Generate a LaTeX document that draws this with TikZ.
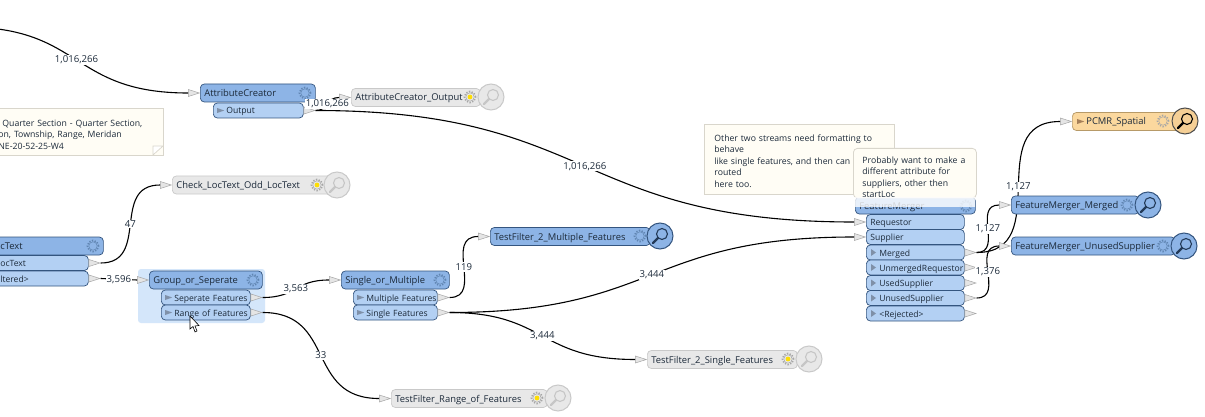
\documentclass[tikz,border=0pt]{standalone}
\usepackage{fontspec}
\setmainfont{Open Sans}
\usetikzlibrary{calc,shapes.geometric}
\definecolor{headblue}{HTML}{8DB4E6}
\definecolor{portblue}{HTML}{B3D0F3}
\definecolor{edgeblue}{HTML}{34557F}
\definecolor{hiliteblue}{HTML}{D4E6FA}
\definecolor{markgray}{HTML}{7F90A8}
\definecolor{grayfill}{HTML}{E8E8E8}
\definecolor{grayedge}{HTML}{C9C9C9}
\definecolor{orangefill}{HTML}{FBD89E}
\definecolor{orangeedge}{HTML}{B79A68}
\definecolor{notefill}{HTML}{FFFDF5}
\definecolor{noteedge}{HTML}{D9D6CC}
\definecolor{inktext}{HTML}{1C2A3A}
\def\markedtext#1{\hspace*{9pt}\mbox{#1}}
\tikzset{
	boxbase/.style={draw, rounded corners=4pt, line width=0.7pt, anchor=west, inner xsep=4pt, inner ysep=0pt, text height=8pt, text depth=1pt, align=left, text=inktext, font=\fontsize{9.4}{11}\selectfont},
	headbox/.style={boxbase, fill=headblue, draw=edgeblue, minimum height=18pt},
	portbox/.style={boxbase, fill=portblue, draw=edgeblue, minimum height=15pt, font=\fontsize{8.6}{11}\selectfont},
	graybox/.style={boxbase, fill=grayfill, draw=grayedge, minimum height=18pt},
	orangebox/.style={boxbase, fill=orangefill, draw=orangeedge, minimum height=18pt},
	porttip/.style={isosceles triangle, isosceles triangle stretches, inner sep=0pt, minimum width=7pt, minimum height=11pt, fill=gray!20, draw=gray!70, line width=0.5pt},
	portmark/.style={isosceles triangle, isosceles triangle stretches, inner sep=0pt, minimum width=5pt, minimum height=7pt, fill=markgray, draw=none},
	link/.style={draw=black, line width=1.1pt, out=0, in=180, looseness=1.3},
	countlabel/.style={midway, fill=white, inner sep=1pt, text=inktext, font=\fontsize{9.6}{11}\selectfont},
	notebox/.style={draw=noteedge, fill=notefill, line width=0.8pt, anchor=north west, inner sep=0pt, align=left, text=inktext, font=\fontsize{8.7}{11.5}\selectfont},
	pics/gearicon/.style args={#1 and #2}{code={
		\fill[#2] (0,0) circle (2.4pt);
		\draw[#1, line width=1.6pt, dash pattern=on 1.3pt off 1.5pt] (0,0) circle (5.6pt);
		\draw[#1, line width=0.5pt] (0,0) circle (4.2pt);
	}},
	pics/lensicon/.style args={#1 and #2 and #3}{code={
		\draw[#2, fill=#1, line width=1pt] (0,0) circle (13pt);
		\draw[#3, line width=1.1pt] (2,-2) circle (5.5pt);
		\draw[#3, line width=2.4pt, line cap=round] (-2,2) -- (-7,7);
	}}
}
\begin{document}
\begin{tikzpicture}[x=1pt,y=-1pt]
		%%%%% START %%%%%
		\useasboundingbox (0,0) rectangle (1205,417);
		\clip (0,0) rectangle (1205,417);
		\fill[white] (0,0) rectangle (1205,417);

		% notes on the left
		\node[notebox, text width=165pt, minimum height=47pt] (noteQuarter) at (-2,108) {\rule{0pt}{12pt}\hspace*{4pt}Quarter Section - Quarter Section,\\on, Township, Range, Meridan\\NE-20-52-25-W4};
		\draw[noteedge, fill=white, line width=0.7pt] (153,155) -- (153,146) -- (163,146) -- cycle;

		% attribute creator
		\node[headbox, text width=107pt] (attrHead) at (200,93) {AttributeCreator};
		\node[portbox, text width=82pt] (attrOut) at (213,110.5) {\markedtext{Output}};
		\node[porttip, anchor=east] (attrIn) at (attrHead.west) {};
		\node[porttip, anchor=west] (attrOutTip) at (attrOut.east) {};
		\node[portmark, anchor=west] at (217,110.5) {};
		\pic at (305,93) {gearicon=headblue!50!edgeblue and headblue};
		\coordinate (offLeft) at (-35,27);

		\node[graybox, text width=121pt] (attrLog) at (351,97.5) {AttributeCreator\_Output};
		\node[porttip, anchor=east] (attrLogIn) at (attrLog.west) {};
		\pic at (470,97) {gearicon=gray!70 and yellow!80!orange};
		\pic at (491,97) {lensicon=grayfill and grayedge and gray!45};

		% check node
		\node[graybox, text width=155pt] (checkLog) at (172,185) {Check\_LocText\_Odd\_LocText};
		\node[porttip, anchor=east] (checkIn) at (checkLog.west) {};
		\pic at (317,185) {gearicon=gray!70 and yellow!80!orange};
		\pic at (337,185) {lensicon=grayfill and grayedge and gray!45};

		\node[headbox, text width=105pt] (locHead) at (-10,246) {\hspace*{6pt}cText};
		\node[portbox, text width=90pt] (locPass) at (-10,263) {\hspace*{6pt}ocText};
		\node[portbox, text width=90pt] (locFail) at (-10,278.5) {\hspace*{6pt}ltered>};
		\node[porttip, anchor=west] (locPassTip) at (locPass.east) {};
		\node[porttip, anchor=west] (locFailTip) at (locFail.east) {};
		\pic at (93,246) {gearicon=headblue!50!edgeblue and headblue};

		% group tester
		\fill[hiliteblue, rounded corners=3pt] (138,269) rectangle (265,323);
		\node[headbox, text width=105pt] (groupHead) at (149,280) {Group\_or\_Seperate};
		\node[portbox, text width=81pt] (groupSep) at (161,297.5) {\markedtext{Seperate Features}};
		\node[portbox, text width=81pt] (groupRange) at (161,312.5) {\markedtext{Range of Features}};
		\node[porttip, anchor=east] (groupIn) at (groupHead.west) {};
		\node[porttip, anchor=west] (groupSepTip) at (groupSep.east) {};
		\node[porttip, anchor=west] (groupRangeTip) at (groupRange.east) {};
		\node[portmark, anchor=west] at (165,297.5) {};
		\node[portmark, anchor=west] at (165,312.5) {};
		\pic at (253,280) {gearicon=headblue!50!edgeblue and headblue};
		\draw[black, fill=white, line width=0.6pt] (190,316) -- (190,329) -- (193,326.5) -- (195,332) -- (197,331) -- (195,326) -- (199,325.5) -- cycle;

		% single or multiple
		\node[headbox, text width=100pt] (singleHead) at (341,280) {Single\_or\_Multiple};
		\node[portbox, text width=76pt] (singleMulti) at (353,297.5) {\markedtext{Multiple Features}};
		\node[portbox, text width=76pt] (singleOne) at (353,312.5) {\markedtext{Single Features}};
		\node[porttip, anchor=east] (singleIn) at (singleHead.west) {};
		\node[porttip, anchor=west] (singleMultiTip) at (singleMulti.east) {};
		\node[porttip, anchor=west] (singleOneTip) at (singleOne.east) {};
		\node[portmark, anchor=west] at (357,297.5) {};
		\node[portmark, anchor=west] at (357,312.5) {};
		\pic at (440,280) {gearicon=headblue!50!edgeblue and headblue};

		% test filter outputs
		\node[headbox, text width=152pt] (multiLog) at (490,236.5) {TestFilter\_2\_Multiple\_Features};
		\node[porttip, anchor=east] (multiIn) at (multiLog.west) {};
		\pic at (640,236) {gearicon=headblue!50!edgeblue and headblue};
		\pic at (660,236) {lensicon=headblue and edgeblue and edgeblue!70!black};

		\node[graybox, text width=142pt] (oneLog) at (647,359.5) {TestFilter\_2\_Single\_Features};
		\node[porttip, anchor=east] (oneIn) at (oneLog.west) {};
		\pic at (788,359) {gearicon=gray!70 and yellow!80!orange};
		\pic at (809,359) {lensicon=grayfill and grayedge and gray!45};

		\node[graybox, text width=148pt] (rangeLog) at (391,398.5) {TestFilter\_Range\_of\_Features};
		\node[porttip, anchor=east] (rangeIn) at (rangeLog.west) {};
		\pic at (537,398) {gearicon=gray!70 and yellow!80!orange};
		\pic at (558,398) {lensicon=grayfill and grayedge and gray!45};

		% feature merger, the notes lie over its top
		\node[notebox, text width=170pt, minimum height=70pt, inner xsep=10pt] (noteStreams) at (704,124) {\rule{0pt}{10pt}Other two streams need formatting to\\behave\\like single features, and then can be\\routed\\here too.};
		\node[headbox, text width=112pt, minimum height=17pt] (mergeHead) at (855,205.5) {FeatureMerger};
		\pic at (966,206) {gearicon=headblue!50!edgeblue and headblue};
		\node[notebox, text width=105pt, minimum height=49pt, inner xsep=9pt, rounded corners=4pt] (noteSupply) at (853,148) {\rule{0pt}{15pt}Probably want to make a\\different attribute for\\suppliers, other then\\startLoc};
		\fill[white, opacity=0.8] (854,197) rectangle (975,207);
		\node[portbox, text width=90pt] (mergeReq) at (866,222) {Requestor};
		\node[portbox, text width=90pt] (mergeSup) at (866,237) {Supplier};
		\node[portbox, text width=90pt] (mergeDone) at (866,252.5) {\markedtext{Merged}};
		\node[portbox, text width=90pt] (mergeUnreq) at (866,267.5) {\markedtext{UnmergedRequestor}};
		\node[portbox, text width=90pt] (mergeUsed) at (866,283) {\markedtext{UsedSupplier}};
		\node[portbox, text width=90pt] (mergeUnused) at (866,298) {\markedtext{UnusedSupplier}};
		\node[portbox, text width=90pt] (mergeRej) at (866,313.5) {\markedtext{<Rejected>}};
		\node[porttip, anchor=east] (mergeReqIn) at (mergeReq.west) {};
		\node[porttip, anchor=east] (mergeSupIn) at (mergeSup.west) {};
		\node[porttip, anchor=west] (mergeDoneTip) at (mergeDone.east) {};
		\node[porttip, anchor=west] (mergeUnreqTip) at (mergeUnreq.east) {};
		\node[porttip, anchor=west] (mergeUsedTip) at (mergeUsed.east) {};
		\node[porttip, anchor=west] (mergeUnusedTip) at (mergeUnused.east) {};
		\node[porttip, anchor=west] (mergeRejTip) at (mergeRej.east) {};
		\foreach \y in {252.5,267.5,283,298,313.5}
			\fill[markgray] (871,\y-3.5) -- (876,\y) -- (871,\y+3.5) -- cycle;

		% outputs on the right
		\node[orangebox, text width=106pt] (spatialLog) at (1072,121.5) {\hspace*{10pt}PCMR\_Spatial};
		\node[porttip, anchor=east] (spatialIn) at (spatialLog.west) {};
		\node[portmark, anchor=west, fill=gray!70!orange] at (1077,121.5) {};
		\pic at (1163,121) {gearicon=gray!70 and orangefill};
		\pic at (1185,121) {lensicon=orangefill!90!brown and black!70 and black};

		% this one runs behind the merged box
		\draw[link] (mergeDoneTip.east) to node[countlabel] {1,127} (spatialIn.west);

		\node[headbox, text width=120pt] (mergedLog) at (1011,205) {FeatureMerger\_Merged};
		\node[porttip, anchor=east] (mergedIn) at (mergedLog.west) {};
		\pic at (1127,205) {gearicon=headblue!50!edgeblue and headblue};
		\pic at (1148,205) {lensicon=headblue and edgeblue and edgeblue!70!black};

		\node[headbox, text width=156pt] (unusedLog) at (1011,246) {FeatureMerger\_UnusedSupplier};
		\node[porttip, anchor=east] (unusedIn) at (unusedLog.west) {};
		\pic at (1163,246) {gearicon=headblue!50!edgeblue and headblue};
		\pic at (1184,246) {lensicon=headblue and edgeblue and edgeblue!70!black};

		% connectors
		\draw[link] (offLeft) to node[countlabel] {1,016,266} (attrIn.west);
		\draw[link] (attrOutTip.east) to node[countlabel] {1,016,266} (attrLogIn.west);
		\draw[link] (attrOutTip.east) to node[countlabel] {1,016,266} (mergeReqIn.west);
		\draw[link] (locPassTip.east) to node[countlabel] {47} (checkIn.west);
		\draw[link] (locFailTip.east) to node[countlabel] {3,596} (groupIn.west);
		\draw[link] (groupSepTip.east) to node[countlabel] {3,563} (singleIn.west);
		\draw[link] (groupRangeTip.east) to node[countlabel] {33} (rangeIn.west);
		\draw[link] (singleMultiTip.east) to node[countlabel] {119} (multiIn.west);
		\draw[link] (singleOneTip.east) to node[countlabel] {3,444} (mergeSupIn.west);
		\draw[link] (singleOneTip.east) to node[countlabel] {3,444} (oneIn.west);
		\draw[link] (mergeDoneTip.east) to node[countlabel] {1,127} (mergedIn.west);
		\draw[link] (mergeUnusedTip.east) to node[countlabel] {1,376} (unusedIn.west);
		%%%%% END %%%%%
	\end{tikzpicture}
\end{document}
